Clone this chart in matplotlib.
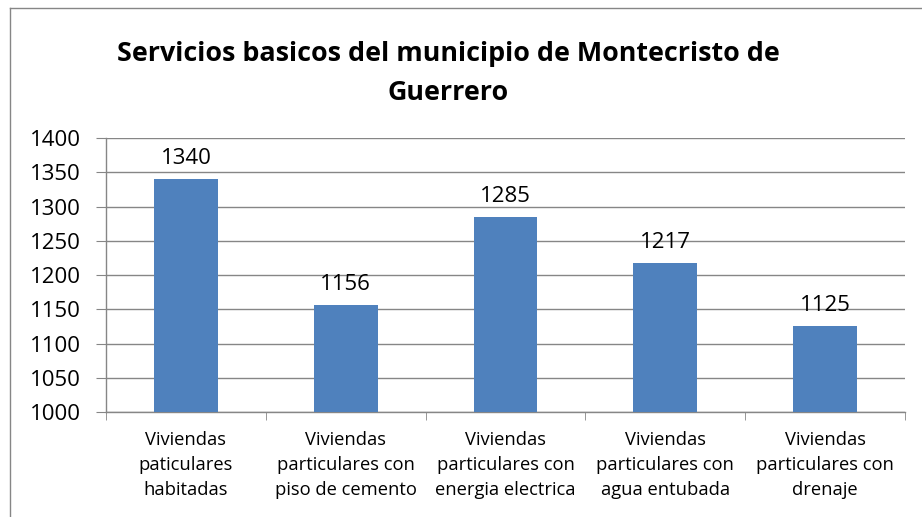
import matplotlib.pyplot as plt
from matplotlib.lines import Line2D

# Data
categories = ['Viviendas\npaticulares\nhabitadas',
              'Viviendas\nparticulares con\npiso de cemento',
              'Viviendas\nparticulares con\nenergia electrica',
              'Viviendas\nparticulares con\nagua entubada',
              'Viviendas\nparticulares con\ndrenaje']
values = [1340, 1156, 1285, 1217, 1125]
yticks = [1000, 1050, 1100, 1150, 1200, 1250, 1300, 1350, 1400]

plt.rcParams['font.family'] = ['Open Sans', 'DejaVu Sans']

fig = plt.figure(figsize=(9.22, 5.17), dpi=100)
ax = fig.add_axes([0.115, 0.203, 0.8666, 0.530])

x = range(len(values))
bars = ax.bar(x, values, width=0.4, color='#4f81bd', zorder=3)

# Data labels above each bar
for xi, v in zip(x, values):
    ax.text(xi, v + 15, str(v), ha='center', va='bottom', fontsize=16, color='black')

ax.set_xlim(-0.5, len(values) - 0.5)
ax.set_ylim(1000, 1400)
ax.set_yticks(yticks)
ax.tick_params(axis='y', labelsize=16, length=7, color='#868686', pad=11)
ax.yaxis.grid(True, color='#868686', linewidth=1, zorder=0)

# category labels centred, tick marks between categories
ax.set_xticks(list(x))
ax.set_xticklabels(categories, fontsize=13.2, linespacing=1.5)
ax.tick_params(axis='x', length=0, pad=14)
ax.set_xticks([i + 0.5 for i in range(-1, len(values))], minor=True)
ax.tick_params(axis='x', which='minor', length=6, color='#868686', direction='out')

for side in ['top', 'right']:
    ax.spines[side].set_visible(False)
for side in ['left', 'bottom']:
    ax.spines[side].set_color('#868686')
    ax.spines[side].set_linewidth(1)

# Title
fig.text(0.486, 0.857, 'Servicios basicos del municipio de Montecristo de\nGuerrero',
         ha='center', va='center', fontsize=19.4, fontweight='bold', linespacing=1.65)

# Outer chart frame (cropped on right and bottom)
fig.add_artist(Line2D([9.5 / 922, 9.5 / 922], [0, 1 - 7.5 / 517], color='#868686', linewidth=1))
fig.add_artist(Line2D([9.5 / 922, 1], [1 - 7.5 / 517, 1 - 7.5 / 517], color='#868686', linewidth=1))

plt.savefig('out.png', dpi=100)
